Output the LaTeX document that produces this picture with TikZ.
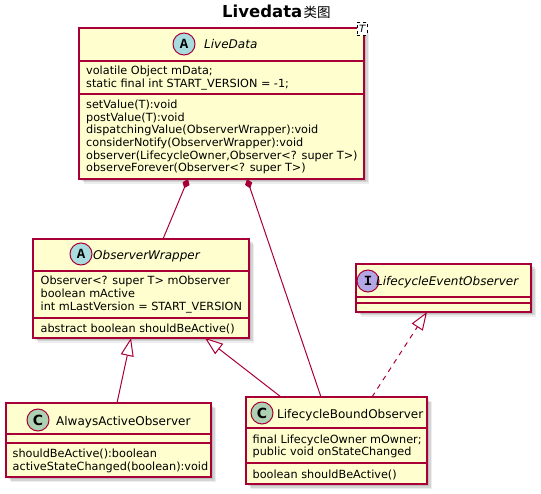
\documentclass[tikz,border=0pt]{standalone}
\usepackage{fontspec}
\setmainfont{DejaVu Sans}
\newfontfamily\cjk{Noto Sans CJK SC}
\newfontfamily\monob{Liberation Mono}
\usetikzlibrary{arrows.meta,calc,shadows}
\definecolor{pborder}{HTML}{A80036}
\definecolor{pfill}{HTML}{FEFECE}
\definecolor{pA}{HTML}{A9DCDF}
\definecolor{pC}{HTML}{ADD1B2}
\definecolor{pI}{HTML}{B4A7E5}
\begin{document}
\begin{tikzpicture}[x=1pt,y=-1pt,
  shad/.style={
    drop shadow={shadow xshift=2pt,shadow yshift=-2pt,fill=black,opacity=.10},
    drop shadow={shadow xshift=3.5pt,shadow yshift=-3.5pt,fill=black,opacity=.10},
    drop shadow={shadow xshift=5pt,shadow yshift=-5pt,fill=black,opacity=.07}},
  classbox/.style={draw=pborder, fill=pfill, line width=1.5pt, rectangle,
    inner sep=0pt, outer sep=0pt, anchor=north west, shad},
  sepline/.style={draw=pborder, line width=1.5pt},
  txt/.style={anchor=base west, inner sep=0pt, font=\fontsize{11.25}{13}\selectfont},
  cname/.style={anchor=base west, inner sep=0pt, font=\fontsize{12}{14}\selectfont},
  icon/.style={circle, draw=pborder, line width=1pt, minimum size=22pt, inner sep=0pt},
  rel/.style={draw=pborder, line width=1pt},
  comp/.style={rel, {Diamond[length=10pt,width=7.5pt,fill=pborder]}-},
  inh/.style={rel, -{Triangle[length=18pt,width=13pt,fill=white]}},
  real/.style={inh, dash pattern=on 5pt off 5pt}
]
\useasboundingbox[fill=white] (0,0) rectangle (541,494);

% title
\node[anchor=base west, inner sep=0pt, font=\fontsize{16.5}{18}\selectfont\bfseries] (title) at (222,17.3) {Livedata};
\node[anchor=base west, inner sep=0pt, font=\cjk\fontsize{13.5}{14}\selectfont] (titlecjk) at (303.5,17.3) {类图};

% LiveData
\node[classbox, minimum width=285pt, minimum height=151pt] (ld) at (79,28) {};
\draw[sepline] ($(ld.north west)+(0,33)$) -- ($(ld.north east)+(0,33)$);
\draw[sepline] ($(ld.north west)+(0,66)$) -- ($(ld.north east)+(0,66)$);
\node[icon, fill=pA, font=\monob\bfseries\fontsize{14}{14}\selectfont] (ldicon) at (184,44) {A};
\node[cname, font=\fontsize{12}{14}\selectfont\itshape] (ldname) at (204,49) {LiveData};
\node[draw=black, dashed, fill=white, line width=0.6pt, minimum width=10pt, minimum height=13pt, inner sep=0pt, anchor=north west, font=\fontsize{10}{10}\selectfont\itshape] (ldtpl) at (357,22) {T};
\node[txt] (ldf1) at (86,74.5) {volatile Object mData;};
\node[txt] (ldf2) at (86,87.2) {static final int START\_VERSION = -1;};
\node[txt] (ldm1) at (86,108.5) {setValue(T):void};
\node[txt] (ldm2) at (86,121.2) {postValue(T):void};
\node[txt] (ldm3) at (86,133.9) {dispatchingValue(ObserverWrapper):void};
\node[txt] (ldm4) at (86,146.6) {considerNotify(ObserverWrapper):void};
\node[txt] (ldm5) at (86,159.3) {observer(LifecycleOwner,Observer<? super T>)};
\node[txt] (ldm6) at (86,172) {observeForever(Observer<? super T>)};

% ObserverWrapper
\node[classbox, minimum width=216pt, minimum height=99pt] (ow) at (33,239) {};
\draw[sepline] ($(ow.north west)+(0,32)$) -- ($(ow.north east)+(0,32)$);
\draw[sepline] ($(ow.north west)+(0,79)$) -- ($(ow.north east)+(0,79)$);
\node[icon, fill=pA, font=\monob\bfseries\fontsize{14}{14}\selectfont] (owicon) at (81,254) {A};
\node[cname, font=\fontsize{12}{14}\selectfont\itshape] (owname) at (93,259.3) {ObserverWrapper};
\node[txt] (owf1) at (40.5,285) {Observer<? super T> mObserver};
\node[txt] (owf2) at (40.5,297.6) {boolean mActive};
\node[txt] (owf3) at (40.5,310.3) {int mLastVersion = START\_VERSION};
\node[txt] (owm1) at (40.5,332.7) {abstract boolean shouldBeActive()};

% LifecycleEventObserver
\node[classbox, minimum width=175pt, minimum height=48pt] (leo) at (356,264) {};
\draw[sepline] ($(leo.north west)+(0,33)$) -- ($(leo.north east)+(0,33)$);
\draw[sepline] ($(leo.north west)+(0,39)$) -- ($(leo.north east)+(0,39)$);
\node[icon, fill=pI, font=\monob\bfseries\fontsize{14}{14}\selectfont] (leoicon) at (368,281) {I};
\node[cname, font=\fontsize{12}{14}\selectfont\itshape] (leoname) at (376,285.7) {LifecycleEventObserver};

% AlwaysActiveObserver
\node[classbox, minimum width=205pt, minimum height=74pt] (aao) at (6,403) {};
\draw[sepline] ($(aao.north west)+(0,31)$) -- ($(aao.north east)+(0,31)$);
\draw[sepline] ($(aao.north west)+(0,40)$) -- ($(aao.north east)+(0,40)$);
\node[icon, fill=pC, font=\bfseries\fontsize{14}{14}\selectfont] (aaoicon) at (38,420) {C};
\node[cname] (aaoname) at (56,425) {AlwaysActiveObserver};
\node[txt] (aaom1) at (12.5,457.6) {shouldBeActive():boolean};
\node[txt] (aaom2) at (12.5,470.2) {activeStateChanged(boolean):void};

% LifecycleBoundObserver
\node[classbox, minimum width=181pt, minimum height=87pt] (lbo) at (246,397) {};
\draw[sepline] ($(lbo.north west)+(0,31)$) -- ($(lbo.north east)+(0,31)$);
\draw[sepline] ($(lbo.north west)+(0,66)$) -- ($(lbo.north east)+(0,66)$);
\node[icon, fill=pC, font=\bfseries\fontsize{14}{14}\selectfont] (lboicon) at (262,413) {C};
\node[cname] (lboname) at (277,418.3) {LifecycleBoundObserver};
\node[txt] (lbof1) at (252.5,443.2) {final LifecycleOwner mOwner;};
\node[txt] (lbof2) at (252.5,455.9) {public void onStateChanged};
\node[txt] (lbom1) at (252.5,478.3) {boolean shouldBeActive()};

% relations
\draw[comp] ($(ld.south west)+(109,0)$) -- ($(ow.north west)+(130,0)$);
\draw[comp] ($(ld.south west)+(168,0)$) -- ($(lbo.north west)+(75,0)$);
\draw[inh] ($(aao.north west)+(111,0)$) -- ($(ow.south west)+(98,0)$);
\draw[inh] ($(lbo.north west)+(35,0)$) -- ($(ow.south west)+(172,0)$);
\draw[real] ($(lbo.north west)+(126,0)$) -- ($(leo.south west)+(71,0)$);
\end{tikzpicture}
\end{document}
